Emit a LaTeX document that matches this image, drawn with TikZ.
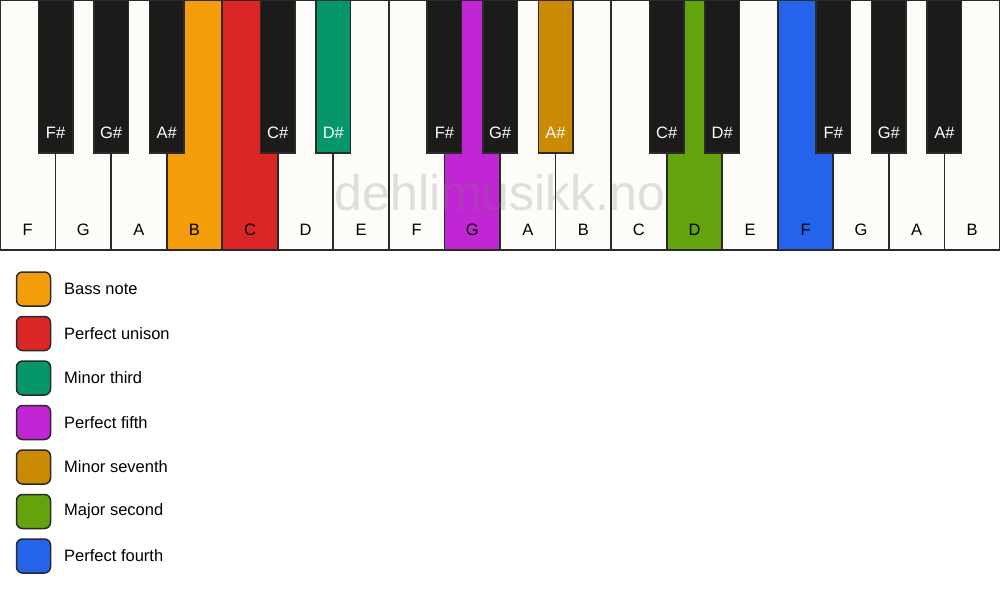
\documentclass[tikz,border=0pt]{standalone}
\usepackage{fontspec}
\setmainfont{Liberation Sans}
\definecolor{keywhite}{HTML}{FDFCF9}
\definecolor{keyblack}{HTML}{1C1B19}
\definecolor{keyline}{HTML}{2A2A2A}
\definecolor{bassnote}{HTML}{F59E0B}
\definecolor{unison}{HTML}{DC2626}
\definecolor{minthird}{HTML}{059669}
\definecolor{perfifth}{HTML}{C026D3}
\definecolor{minseventh}{HTML}{CA8A04}
\definecolor{majsecond}{HTML}{65A30D}
\definecolor{perfourth}{HTML}{2563EB}

\begin{document}
\begin{tikzpicture}[x=1pt,y=-1pt,
  whitekey/.style={draw=keyline,line width=1.8pt,inner sep=0pt,outer sep=0pt,
    minimum width=55.56pt,minimum height=250pt,anchor=north west},
  blackkey/.style={draw=keyline,line width=1.5pt,inner sep=0pt,outer sep=0pt,
    minimum width=34.5pt,minimum height=153pt,anchor=north},
  whitename/.style={font=\fontsize{16.5}{19}\selectfont,text=black},
  blackname/.style={font=\fontsize{16.5}{19}\selectfont,text=white},
  swatch/.style={draw=keyline,line width=1.5pt,rounded corners=6pt,
    minimum width=34pt,minimum height=34pt,inner sep=0pt},
  legendtext/.style={font=\fontsize{16.5}{19}\selectfont,anchor=west,inner sep=0pt},
  watermark/.style={font=\fontsize{50}{60}\selectfont,text=gray,text opacity=0.24}]
\useasboundingbox (0,0) rectangle (1000,594);
\fill[white] (0,0) rectangle (1000,594);

% white keys
\foreach \n/\c [count=\i from 0] in {F/keywhite,G/keywhite,A/keywhite,B/bassnote,
    C/unison,D/keywhite,E/keywhite,F/keywhite,G/perfifth,A/keywhite,B/keywhite,
    C/keywhite,D/majsecond,E/keywhite,F/perfourth,G/keywhite,A/keywhite,B/keywhite}
{
  \node[whitekey,fill=\c] (w\i) at (\i*55.556,0) {};
  \node[whitename] (wn\i) at ([yshift=20pt]w\i.south) {\n};
}

\node[watermark] (mark) at (500,193) {dehlimusikk.no};

% black keys
\foreach \b/\n/\c in {1/F\#/keyblack,2/G\#/keyblack,3/A\#/keyblack,5/C\#/keyblack,
    6/D\#/minthird,8/F\#/keyblack,9/G\#/keyblack,10/A\#/minseventh,12/C\#/keyblack,
    13/D\#/keyblack,15/F\#/keyblack,16/G\#/keyblack,17/A\#/keyblack}
{
  \node[blackkey,fill=\c] (b\b) at (\b*55.556,0) {};
  \node[blackname] (bn\b) at ([yshift=20pt]b\b.south) {\n};
}

% legend
\foreach \c/\t [count=\k from 0] in {bassnote/Bass note,unison/Perfect unison,
    minthird/Minor third,perfifth/Perfect fifth,minseventh/Minor seventh,
    majsecond/Major second,perfourth/Perfect fourth}
{
  \node[swatch,fill=\c] (s\k) at (33.5,289+\k*44.5) {};
  \node[legendtext] (t\k) at (64,289+\k*44.5) {\t};
}
\end{tikzpicture}
\end{document}
